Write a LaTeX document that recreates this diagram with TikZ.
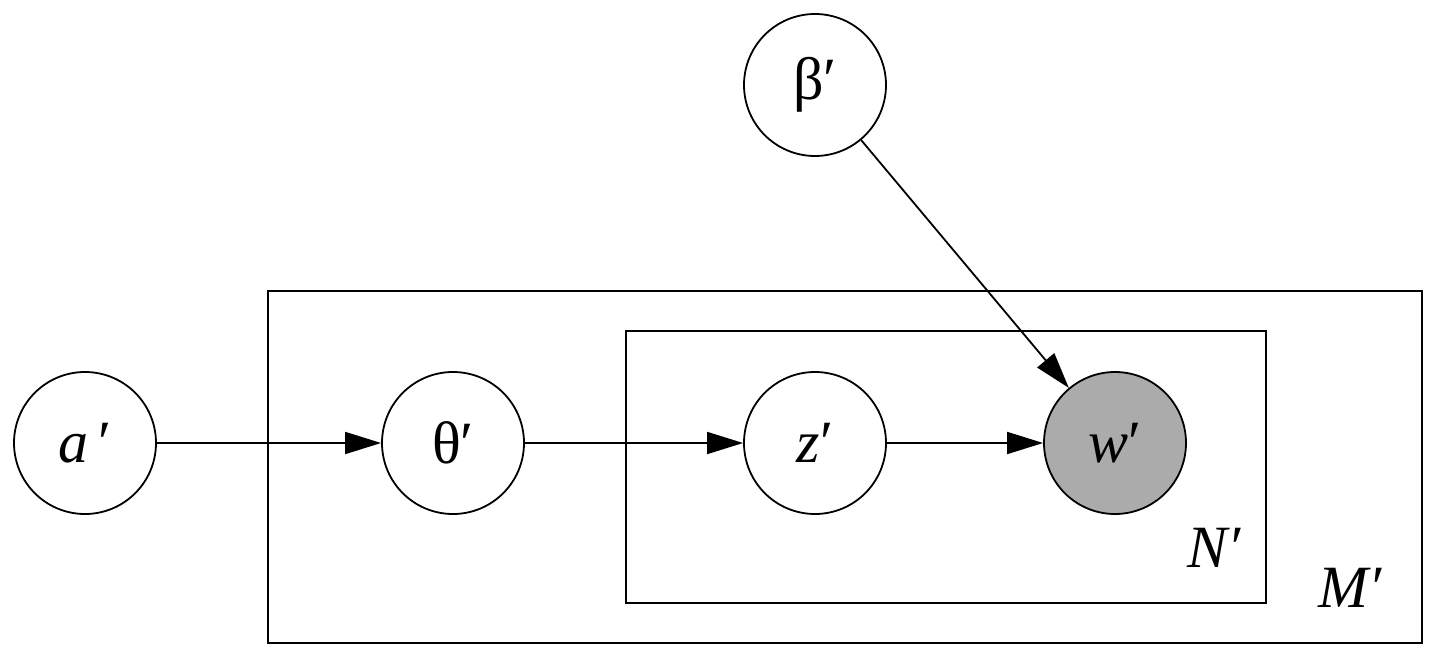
\documentclass[tikz,border=0pt]{standalone}
\usepackage{fontspec}
\setmainfont{Liberation Serif}
\usetikzlibrary{arrows.meta}
\begin{document}
\begin{tikzpicture}[x=1pt,y=-1pt,
 v/.style={circle,draw,line width=1.8pt,minimum size=142pt,inner sep=0pt,font=\fontsize{60}{60}\selectfont},
 e/.style={line width=1.8pt,-{Triangle[length=36pt,width=22pt]}},
 lab/.style={font=\fontsize{60}{60}\selectfont\itshape}]
\useasboundingbox (0,0) rectangle (1434,655);
\draw[line width=1.8pt] (268,291) rectangle (1422,643);
\draw[line width=1.8pt] (626,331) rectangle (1266,603);
\node[v] (a) at (85,443) {\textit{a}\,′};
\node[v] (t) at (453,443) {θ′};
\node[v] (z) at (815,443) {\textit{z}′};
\node[v,fill=black!33] (w) at (1115,443) {\textit{w}′};
\node[v] (b) at (815,85) {β′};
\node[lab] (N) at (1214,548) {N′};
\node[lab] (M) at (1350,588) {M′};
\draw[e] (a) -- (t);
\draw[e] (t) -- (z);
\draw[e] (z) -- (w);
\draw[e] (b) -- (w);
\end{tikzpicture}
\end{document}
